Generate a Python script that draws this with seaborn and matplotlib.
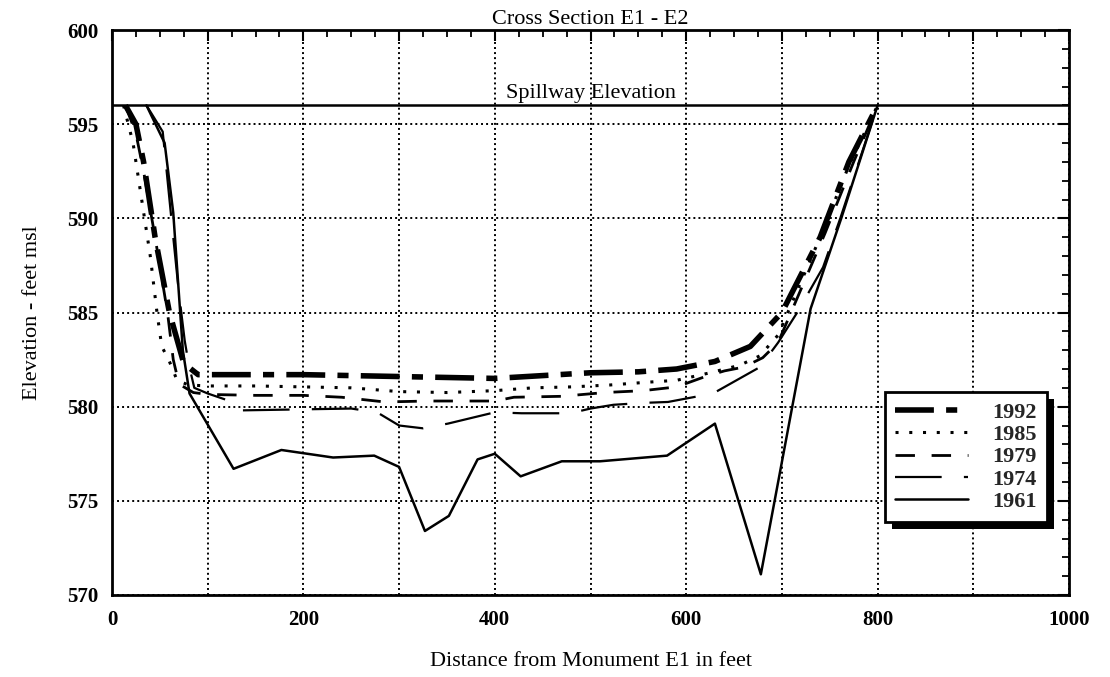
import matplotlib
matplotlib.use("Agg")
import numpy as np
import pandas as pd
import matplotlib.pyplot as plt
import seaborn as sns
from matplotlib.ticker import MultipleLocator, FuncFormatter
from matplotlib.patches import Rectangle
from matplotlib.transforms import IdentityTransform

# Survey cross sections E1 - E2: distance (ft) vs. bottom elevation (ft msl)
years = ["1992", "1985", "1979", "1974", "1961"]

dist_1992 = [14, 25, 33, 45, 60, 75, 90, 150, 200, 250, 300, 350, 400, 450, 500,
             550, 590, 630, 667, 700, 740, 770, 800]
elev_1992 = [596.0, 595.0, 593.0, 589.0, 585.0, 582.3, 581.7, 581.7, 581.7, 581.65,
             581.6, 581.55, 581.5, 581.65, 581.8, 581.85, 582.0, 582.4, 583.2, 585.0,
             589.0, 593.0, 596.0]

dist_1985 = [12, 22, 31, 40, 47, 52, 60, 68, 80, 100, 150, 200, 250, 300, 350, 400,
             440, 480, 520, 560, 590, 625, 656, 677, 696, 740, 770, 800]
elev_1985 = [596.0, 594.0, 591.0, 588.0, 585.0, 583.2, 582.4, 581.4, 581.15, 581.1,
             581.1, 581.05, 581.0, 580.8, 580.75, 580.85, 581.0, 581.05, 581.15, 581.3,
             581.4, 581.8, 582.2, 582.7, 583.8, 589.0, 592.8, 596.0]

dist_1979 = [14, 25, 33, 45, 58, 64, 70, 85, 100, 150, 200, 240, 285, 330, 400, 420,
             470, 515, 555, 590, 620, 640, 660, 680, 696, 745, 775, 800]
elev_1979 = [596.0, 594.5, 592.5, 589.0, 585.0, 582.5, 581.2, 580.75, 580.65, 580.6,
             580.6, 580.5, 580.25, 580.3, 580.3, 580.5, 580.55, 580.75, 580.85, 581.05,
             581.6, 581.9, 582.1, 582.6, 583.4, 589.2, 593.0, 596.0]

dist_1974 = [36, 53, 62, 70, 76, 80, 86, 100, 123, 132, 190, 250, 277, 300, 325, 351,
             400, 428, 479, 500, 524, 555, 581, 628, 656, 677, 696, 716, 743, 761, 800]
elev_1974 = [596.0, 594.6, 590.0, 586.0, 583.5, 582.3, 581.0, 580.7, 580.3, 579.8,
             579.85, 579.9, 579.7, 579.0, 578.85, 579.1, 579.7, 579.65, 579.65, 579.9,
             580.1, 580.2, 580.25, 580.7, 581.5, 582.1, 583.4, 585.0, 587.4, 590.0, 596.0]

dist_1961 = [36, 55, 64, 74, 81, 127, 177, 231, 274, 300, 327, 352, 382, 400, 427, 470,
             510, 580, 630, 678, 730, 762, 800]
elev_1961 = [596.0, 594.0, 590.3, 583.0, 580.7, 576.7, 577.7, 577.3, 577.4, 576.8, 573.4,
             574.2, 577.2, 577.5, 576.3, 577.1, 577.1, 577.4, 579.1, 571.1, 585.2, 590.0,
             596.0]

spillway_elev = 596.0

frames = []
for yr, d, e in [("1992", dist_1992, elev_1992), ("1985", dist_1985, elev_1985),
                 ("1979", dist_1979, elev_1979), ("1974", dist_1974, elev_1974),
                 ("1961", dist_1961, elev_1961)]:
    frames.append(pd.DataFrame({"year": yr, "distance": d, "elevation": e}))
df = pd.concat(frames, ignore_index=True)

line_styles = {
    "1992": dict(lw=4.0, ls=(0, (7, 2.2, 2, 2.2))),
    "1985": dict(lw=2.2, ls=(0, (1, 3.5))),
    "1979": dict(lw=2.0, ls=(0, (7, 6))),
    "1974": dict(lw=1.6, ls=(0, (21, 10))),
    "1961": dict(lw=1.8, ls="-"),
}

sns.set_theme(style="white")
plt.rcParams["font.family"] = ["Liberation Serif", "DejaVu Serif"]

fig = plt.figure(figsize=(11.1, 6.77), dpi=100)
ax = fig.add_axes([112 / 1110, 1 - 595 / 677, 957 / 1110, 565 / 677])

handles = []
for yr in years:
    sub = df[df["year"] == yr]
    sns.lineplot(data=sub, x="distance", y="elevation", ax=ax, color="black",
                 sort=False, estimator=None, legend=False)
    ln = ax.lines[-1]
    ln.set_linewidth(line_styles[yr]["lw"])
    ln.set_linestyle(line_styles[yr]["ls"])
    ln.set_label(yr)
    handles.append(ln)

ax.axhline(spillway_elev, color="black", lw=1.8, zorder=3)
ax.text(500, spillway_elev + 0.12, "Spillway Elevation", ha="center", va="bottom",
        fontsize=16, color="black")

ax.set_xlim(0, 1000)
ax.set_ylim(570, 600)
ax.xaxis.set_major_locator(MultipleLocator(100))
ax.xaxis.set_minor_locator(MultipleLocator(25))
ax.xaxis.set_major_formatter(FuncFormatter(lambda v, p: f"{int(round(v))}" if int(round(v)) % 200 == 0 else ""))
ax.yaxis.set_major_locator(MultipleLocator(5))
ax.yaxis.set_minor_locator(MultipleLocator(1))

ax.tick_params(which="major", direction="in", length=8, width=1.5, color="black",
               top=True, right=True, labelsize=15, labelcolor="black")
ax.tick_params(which="minor", direction="in", length=5, width=1.3, color="black",
               top=True, right=True)
ax.tick_params(axis="x", which="major", pad=11)
ax.tick_params(axis="y", which="major", pad=10)

ax.grid(True, which="major", color="black", linestyle=(0, (1, 1.6)), linewidth=1.4)
ax.grid(False, which="minor")
for s in ax.spines.values():
    s.set_linewidth(2)
    s.set_color("black")

ax.set_title("Cross Section E1 - E2", fontsize=16, pad=4, color="black")
ax.set_xlabel("Distance from Monument E1 in feet", fontsize=16, labelpad=16, color="black")
ax.set_ylabel("Elevation - feet msl", fontsize=16, labelpad=18, color="black")

leg = ax.legend(handles, years, loc="lower right", bbox_to_anchor=(0.977, 0.129),
                frameon=True, fancybox=False, edgecolor="black", framealpha=1,
                prop={"weight": "bold", "size": 16}, handlelength=3.3,
                labelspacing=0.08, borderpad=0.45, handletextpad=1.1,
                borderaxespad=0)
leg.get_frame().set_linewidth(2)

fig.canvas.draw()
for t in ax.get_xticklabels() + ax.get_yticklabels():
    t.set_fontweight("bold")

# solid drop shadow behind the legend box
bb = leg.get_window_extent()
shadow = Rectangle((bb.x0 + 7, bb.y0 - 7), bb.width, bb.height,
                   transform=IdentityTransform(), facecolor="black",
                   edgecolor="none", zorder=leg.get_zorder() - 0.1, clip_on=False)
ax.add_artist(shadow)

fig.savefig("out.png", dpi=100)
